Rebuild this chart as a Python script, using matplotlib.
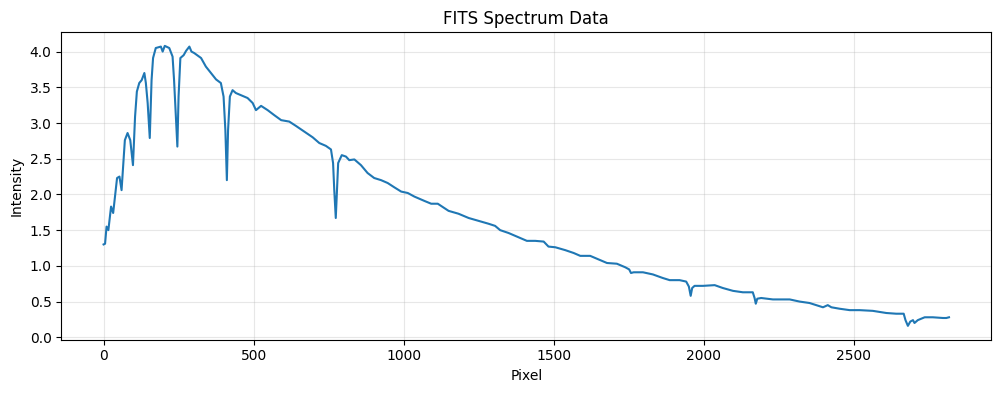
import matplotlib
matplotlib.use("Agg")
import matplotlib.pyplot as plt

pixel = [0, 5, 10, 16, 25, 32, 45, 53, 60, 71, 80, 89, 98, 105, 111, 119, 127, 136, 141,
         147, 154, 160, 165, 174, 191, 197, 204, 219, 230, 235, 241, 246, 250, 256, 267,
         275, 286, 293, 302, 325, 341, 358, 375, 391, 400, 406, 411, 415, 421, 430, 441,
         458, 480, 497, 508, 525, 547, 569, 592, 619, 641, 669, 697, 719, 741, 758, 765,
         769, 774, 778, 782, 794, 808, 819, 836, 858, 880, 902, 925, 947, 969, 992, 1014,
         1036, 1069, 1092, 1114, 1150, 1183, 1217, 1250, 1283, 1305, 1322, 1350, 1383,
         1411, 1439, 1467, 1483, 1506, 1539, 1567, 1589, 1622, 1650, 1678, 1711, 1739,
         1752, 1758, 1767, 1798, 1831, 1864, 1887, 1920, 1942, 1951, 1957, 1962, 1970,
         1998, 2037, 2064, 2098, 2131, 2164, 2170, 2174, 2179, 2192, 2231, 2287, 2320,
         2353, 2376, 2398, 2414, 2426, 2453, 2487, 2520, 2564, 2609, 2642, 2667, 2673,
         2681, 2689, 2698, 2703, 2714, 2737, 2764, 2798, 2809, 2818]
intensity = [1.30, 1.31, 1.55, 1.50, 1.83, 1.74, 2.23, 2.25, 2.06, 2.76, 2.86, 2.76, 2.41,
             3.09, 3.44, 3.56, 3.60, 3.70, 3.56, 3.28, 2.79, 3.60, 3.91, 4.05, 4.07, 4.00,
             4.08, 4.05, 3.93, 3.60, 3.09, 2.67, 3.37, 3.91, 3.95, 4.01, 4.07, 4.00, 3.98,
             3.91, 3.79, 3.70, 3.61, 3.56, 3.37, 2.90, 2.20, 2.90, 3.37, 3.46, 3.42, 3.39,
             3.35, 3.28, 3.18, 3.24, 3.18, 3.11, 3.04, 3.02, 2.96, 2.88, 2.80, 2.72, 2.68,
             2.63, 2.44, 2.06, 1.67, 2.06, 2.44, 2.55, 2.53, 2.48, 2.49, 2.41, 2.30, 2.23,
             2.20, 2.16, 2.10, 2.04, 2.02, 1.97, 1.91, 1.87, 1.87, 1.77, 1.73, 1.67, 1.63,
             1.59, 1.56, 1.50, 1.46, 1.40, 1.35, 1.35, 1.34, 1.27, 1.26, 1.22, 1.18, 1.14,
             1.14, 1.09, 1.04, 1.03, 0.98, 0.95, 0.90, 0.91, 0.91, 0.88, 0.83, 0.80, 0.80,
             0.78, 0.71, 0.58, 0.69, 0.72, 0.72, 0.73, 0.69, 0.65, 0.63, 0.63, 0.55, 0.47,
             0.54, 0.55, 0.53, 0.53, 0.50, 0.48, 0.45, 0.42, 0.45, 0.42, 0.40, 0.38, 0.38,
             0.37, 0.34, 0.33, 0.33, 0.24, 0.16, 0.22, 0.24, 0.20, 0.24, 0.28, 0.28, 0.27,
             0.27, 0.28]

fig = plt.figure(figsize=(10.01, 3.93), dpi=100)
ax = fig.add_subplot(111)
fig.subplots_adjust(left=0.0612, right=0.9903, top=0.9178, bottom=0.1356)
ax.plot(pixel, intensity, color="#1f77b4", linewidth=1.5)
ax.set_xlim(-141, 2959)
ax.set_ylim(-0.034, 4.27)
ax.set_title("FITS Spectrum Data")
ax.set_xlabel("Pixel")
ax.set_ylabel("Intensity")
ax.grid(True, alpha=0.3)
fig.savefig("out.png", dpi=100)
